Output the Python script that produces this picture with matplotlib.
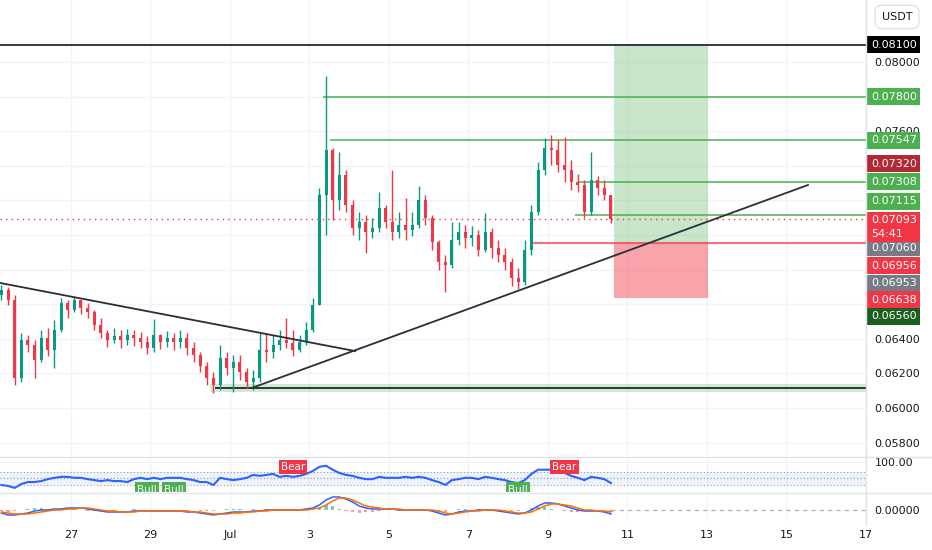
import numpy as np
import matplotlib
matplotlib.use("Agg")
import matplotlib.pyplot as plt
from matplotlib.lines import Line2D


# 4h candles, time axis = days since Jun 25 00:00
first_time = 0.25
bar_step = 1 / 6
first_open = 0.06653

closes = [0.06682, 0.06624, 0.06173, 0.06393, 0.06364, 0.06277, 0.06405, 0.06335, 0.06451, 0.06607,
          0.06566, 0.06624, 0.06578, 0.06555, 0.06480, 0.06434, 0.06393, 0.06416, 0.06393, 0.06422,
          0.06405, 0.06381, 0.06347, 0.06422, 0.06381, 0.06405, 0.06381, 0.06405, 0.06347, 0.06306,
          0.06243, 0.06173, 0.06133, 0.06289, 0.06231, 0.06266, 0.06208, 0.06150, 0.06173, 0.06335,
          0.06324, 0.06364, 0.06393, 0.06376, 0.06335, 0.06381, 0.06451, 0.06595, 0.07231, 0.07491,
          0.07202, 0.07347, 0.07173, 0.07040, 0.07075, 0.07017, 0.07040, 0.07156, 0.07075, 0.07017,
          0.07058, 0.07029, 0.07058, 0.07202, 0.07098, 0.06959, 0.06844, 0.06827, 0.06971, 0.07017,
          0.06983, 0.07000, 0.06913, 0.07017, 0.06925, 0.06884, 0.06844, 0.06751, 0.06728, 0.06913,
          0.07133, 0.07376, 0.07503, 0.07491, 0.07405, 0.07376, 0.07306, 0.07289, 0.07133, 0.07318,
          0.07272, 0.07231, 0.07093]
highs = [0.06711, 0.06699, 0.06653, 0.06434, 0.06422, 0.06393, 0.06451, 0.06462, 0.06509, 0.06636,
         0.06624, 0.06642, 0.06624, 0.06607, 0.06566, 0.06520, 0.06451, 0.06462, 0.06451, 0.06457,
         0.06451, 0.06439, 0.06416, 0.06514, 0.06428, 0.06445, 0.06434, 0.06451, 0.06434, 0.06381,
         0.06324, 0.06266, 0.06208, 0.06364, 0.06324, 0.06306, 0.06306, 0.06231, 0.06220, 0.06434,
         0.06434, 0.06422, 0.06451, 0.06520, 0.06451, 0.06422, 0.06497, 0.06636, 0.07272, 0.07919,
         0.07503, 0.07480, 0.07376, 0.07202, 0.07133, 0.07116, 0.07098, 0.07248, 0.07173, 0.07376,
         0.07133, 0.07214, 0.07133, 0.07283, 0.07231, 0.07116, 0.06971, 0.06884, 0.07075, 0.07075,
         0.07058, 0.07052, 0.07029, 0.07127, 0.07040, 0.06971, 0.06925, 0.06867, 0.06809, 0.06971,
         0.07173, 0.07422, 0.07561, 0.07578, 0.07549, 0.07566, 0.07433, 0.07353, 0.07318, 0.07480,
         0.07341, 0.07318, 0.07231]
lows = [0.06624, 0.06595, 0.06133, 0.06150, 0.06324, 0.06173, 0.06266, 0.06301, 0.06231, 0.06439,
        0.06520, 0.06555, 0.06543, 0.06520, 0.06451, 0.06405, 0.06353, 0.06376, 0.06347, 0.06364,
        0.06358, 0.06347, 0.06312, 0.06324, 0.06341, 0.06353, 0.06335, 0.06347, 0.06306, 0.06266,
        0.06208, 0.06133, 0.06087, 0.06104, 0.06191, 0.06092, 0.06162, 0.06116, 0.06104, 0.06150,
        0.06266, 0.06289, 0.06335, 0.06347, 0.06301, 0.06324, 0.06364, 0.06439, 0.06595, 0.07000,
        0.07087, 0.07144, 0.07133, 0.07000, 0.06971, 0.06896, 0.06983, 0.07017, 0.07040, 0.06971,
        0.06983, 0.06971, 0.06994, 0.07040, 0.07058, 0.06913, 0.06798, 0.06670, 0.06809, 0.06942,
        0.06925, 0.06936, 0.06879, 0.06902, 0.06867, 0.06844, 0.06798, 0.06705, 0.06688, 0.06711,
        0.06884, 0.07116, 0.07347, 0.07405, 0.07364, 0.07306, 0.07260, 0.07248, 0.07098, 0.07116,
        0.07231, 0.07202, 0.07069]

rsi = [30, 27, 21, 33, 39, 39, 42, 48, 52, 55,
       55, 52, 52, 48, 45, 42, 45, 42, 42, 39,
       48, 52, 48, 52, 48, 52, 52, 52, 48, 45,
       39, 39, 30, 52, 48, 45, 48, 52, 61, 58,
       61, 64, 55, 58, 55, 58, 64, 73, 86, 89,
       77, 67, 61, 58, 52, 48, 48, 55, 52, 52,
       52, 55, 52, 55, 52, 45, 39, 30, 45, 48,
       52, 52, 48, 55, 52, 48, 45, 39, 36, 45,
       64, 77, 77, 77, 73, 67, 58, 52, 45, 55,
       52, 48, 36]

macd = [-0.00012, -0.00020, -0.00020, -0.00016, -0.00012, -0.00004, 0.0, 0.0, 0.00004, 0.00004,
        0.00008, 0.00008, 0.00008, 0.00004, 0.0, -0.00004, -0.00008, -0.00008, -0.00008, -0.00008,
        -0.00004, -0.00004, -0.00004, -0.00004, -0.00004, -0.00004, -0.00004, -0.00004, -0.00008, -0.00008,
        -0.00012, -0.00016, -0.00020, -0.00016, -0.00012, -0.00008, -0.00008, -0.00008, -0.00004, -0.00004,
        0.0, 0.0, 0.0, 0.0, 0.0, 0.0, 0.00004, 0.00008, 0.00020, 0.00040,
        0.00052, 0.00052, 0.00044, 0.00032, 0.00016, 0.00008, 0.00004, 0.00004, 0.00004, 0.00004,
        0.0, 0.0, 0.0, 0.0, 0.0, -0.00004, -0.00012, -0.00020, -0.00016, -0.00008,
        -0.00004, -0.00004, 0.0, 0.0, 0.0, -0.00004, -0.00008, -0.00012, -0.00016, -0.00012,
        0.0, 0.00016, 0.00028, 0.00028, 0.00024, 0.00016, 0.00008, 0.0, -0.00004, -0.00004,
        -0.00004, -0.00008, -0.00016]
signal = [-0.00008, -0.00012, -0.00016, -0.00016, -0.00016, -0.00012, -0.00008, -0.00004, 0.0, 0.0,
          0.00004, 0.00004, 0.00008, 0.00008, 0.00004, 0.0, -0.00004, -0.00004, -0.00008, -0.00008,
          -0.00008, -0.00004, -0.00004, -0.00004, -0.00004, -0.00004, -0.00004, -0.00004, -0.00004, -0.00008,
          -0.00008, -0.00012, -0.00016, -0.00016, -0.00016, -0.00012, -0.00012, -0.00008, -0.00008, -0.00004,
          -0.00004, 0.0, 0.0, 0.0, 0.0, 0.0, 0.0, 0.00004, 0.00008, 0.00020,
          0.00036, 0.00048, 0.00048, 0.00040, 0.00028, 0.00016, 0.00012, 0.00008, 0.00004, 0.00004,
          0.00004, 0.0, 0.0, 0.0, 0.0, 0.0, -0.00004, -0.00012, -0.00016, -0.00012,
          -0.00008, -0.00004, -0.00004, 0.0, 0.0, 0.0, -0.00004, -0.00008, -0.00012, -0.00012,
          -0.00008, 0.00004, 0.00016, 0.00024, 0.00024, 0.00020, 0.00016, 0.00008, 0.0, 0.0,
          -0.00004, -0.00004, -0.00008]

date_ticks = [2, 4, 6, 8, 10, 12, 14, 16, 18, 20, 22]
date_labels = ["27", "29", "Jul", "3", "5", "7", "9", "11", "13", "15", "17"]

# drawings
target_price = 0.08100
entry_price = 0.06956
stop_price = 0.06638
last_price = 0.07093
position_span = (15.66, 18.03)
entry_line_start = 13.55
level_prices = [0.07800, 0.07547, 0.07308, 0.07115]
level_starts = [8.34, 8.52, 14.76, 14.68]
support_price = 0.06116
support_band = (0.06092, 0.06139)
support_start = 5.5
down_trend_t = [0.21, 9.15]
down_trend_p = [0.06723, 0.06329]
up_trend_t = [6.55, 20.54]
up_trend_p = [0.06116, 0.07289]

label_prices = [0.08100, 0.07800, 0.07547, 0.07320, 0.07308, 0.07115,
                0.07060, 0.06956, 0.06953, 0.06638, 0.06560]
label_colors = ["#000000", "#4caf50", "#4caf50", "#b22833", "#4caf50", "#4caf50",
                "#787b86", "#f23645", "#787b86", "#f23645", "#1b5e20"]
label_shift_px = [0, 0, 0, -16, 0, -14, 23, 23, 40, 2, 5]   # stacking offsets on the scale

bear_idx = [44, 85]
bull_idx = [22, 26, 78]

GREEN = "#089981"
RED = "#f23645"
GRID = "#f0f3fa"
TXT = "#131722"

W, H = 932, 550
xmin, xmax = 0.214, 22.0

fig = plt.figure(figsize=(W / 100, H / 100), dpi=100)
fig.patch.set_facecolor("white")
ax = fig.add_axes([0, 1 - 456 / H, 866 / W, 456 / H])
ax_rsi = fig.add_axes([0, 1 - 492 / H, 866 / W, 34 / H], sharex=ax)
ax_macd = fig.add_axes([0, 1 - 522 / H, 866 / W, 28 / H], sharex=ax)

t = first_time + bar_step * np.arange(len(closes))
opens = np.r_[first_open, closes[:-1]]
closes_a = np.array(closes)
highs_a = np.maximum(np.array(highs), np.maximum(opens, closes_a))
lows_a = np.minimum(np.array(lows), np.minimum(opens, closes_a))
up = closes_a >= opens
colors = np.where(up, GREEN, RED)

for a in (ax, ax_rsi, ax_macd):
    for s in a.spines.values():
        s.set_visible(False)
    a.set_facecolor("white")
    for d in date_ticks:
        a.axvline(d, color=GRID, lw=1, zorder=0)
    a.tick_params(length=0, colors=TXT, labelsize=8)
    a.yaxis.tick_right()

# ---- main price pane ----
price_ticks = np.arange(0.058, 0.0811, 0.002)
shown = {0.058, 0.060, 0.062, 0.064, 0.076, 0.080}
for p in price_ticks:
    ax.axhline(p, color=GRID, lw=1, zorder=0)
ax.set_yticks(price_ticks)
ax.set_yticklabels([f"{p:.5f}" if round(p, 3) in shown else "" for p in price_ticks])
ax.tick_params(axis="y", pad=6)
ax.tick_params(axis="x", labelbottom=False)

# position tool
ax.fill_between(position_span, entry_price, target_price, color="#4caf50", alpha=0.3, lw=0, zorder=1)
ax.fill_between(position_span, stop_price, entry_price, color=RED, alpha=0.45, lw=0, zorder=1)
ax.hlines(target_price, xmin, xmax, color=TXT, lw=1.2, zorder=2)
ax.hlines(entry_price, entry_line_start, xmax, color=RED, lw=1.5, alpha=0.7, zorder=2)
for lp, ls in zip(level_prices, level_starts):
    ax.hlines(lp, ls, xmax, color="#4caf50", lw=1.3, alpha=0.85, zorder=2)

# support zone + trendlines
ax.fill_between([support_start, xmax], support_band[0], support_band[1], color="#4caf50", alpha=0.25, lw=0, zorder=1)
ax.hlines(support_price, support_start + 0.12, xmax, color=TXT, lw=1.2, zorder=2)
ax.plot(down_trend_t, down_trend_p, color="#2a2e39", lw=1.3, zorder=4)
ax.plot(up_trend_t, up_trend_p, color="#2a2e39", lw=1.3, zorder=4)

# candles
ax.vlines(t, lows_a, highs_a, colors=colors, lw=1, zorder=3)
ax.bar(t, np.abs(closes_a - opens), bottom=np.minimum(opens, closes_a), width=bar_step * 0.45,
       color=colors, zorder=3)

ax.hlines(last_price, xmin, xmax, color=RED, lw=1, linestyles=(0, (1, 3)), zorder=2)

ax.set_xlim(xmin, xmax)
ax.set_ylim(0.06 - 48 / 17300, 0.06 + 408 / 17300)

# price scale labels
px2pt = 0.72
for lp, lc, sh in zip(label_prices, label_colors, label_shift_px):
    ax.annotate(f"{lp:.5f}", xy=(1, lp), xycoords=("axes fraction", "data"),
                xytext=(3.5, -sh * px2pt), textcoords="offset points",
                ha="left", va="center", color="white", fontsize=8,
                bbox=dict(boxstyle="square,pad=0.32", fc=lc, ec="none"),
                annotation_clip=False, zorder=6)
ax.annotate(f"{last_price:.5f}\n54:41", xy=(1, last_price), xycoords=("axes fraction", "data"),
            xytext=(3.5, -8 * px2pt), textcoords="offset points",
            ha="left", va="center", color="white", fontsize=8, linespacing=1.45,
            bbox=dict(boxstyle="square,pad=0.32", fc=RED, ec="none"),
            annotation_clip=False, zorder=7)

# ---- RSI pane ----
ax_rsi.axhspan(30, 70, color="#2962ff", alpha=0.08, lw=0, zorder=0)
for lvl in (30, 50, 70):
    ax_rsi.axhline(lvl, color="#9598a1", lw=0.8, ls=(0, (1, 2)), zorder=1)
ax_rsi.axhline(100, color=GRID, lw=1, zorder=0)
ax_rsi.plot(t, rsi, color="#2962ff", lw=1.5, zorder=3)
for i in bear_idx:
    ax_rsi.text(t[i], 85, "Bear", ha="center", va="center", color="white", fontsize=7.5,
                bbox=dict(boxstyle="square,pad=0.2", fc=RED, ec="none"), zorder=5, clip_on=True)
for i in bull_idx:
    ax_rsi.text(t[i], 16, "Bull", ha="center", va="center", color="white", fontsize=7.5,
                bbox=dict(boxstyle="square,pad=0.2", fc="#4caf50", ec="none"), zorder=5, clip_on=True)
ax_rsi.set_ylim(8.4, 113)
ax_rsi.set_yticks([100])
ax_rsi.set_yticklabels(["100.00"])
ax_rsi.tick_params(axis="y", pad=6)
ax_rsi.tick_params(axis="x", labelbottom=False)

# ---- MACD pane ----
macd_a = np.array(macd)
signal_a = np.array(signal)
hist = macd_a - signal_a
ax_macd.bar(t, hist, width=bar_step * 0.5, color=np.where(hist >= 0, "#26a69a", "#ff5252"),
            alpha=0.6, zorder=2)
ax_macd.plot(t, macd_a, color="#2962ff", lw=1.1, zorder=3)
ax_macd.plot(t, signal_a, color="#ff6d00", lw=1.1, zorder=3)
ax_macd.hlines(0, t[-1], xmax, color="#b2b5be", lw=1, linestyles=(0, (3, 3)), zorder=1)
ax_macd.set_ylim(-0.00048, 0.00064)
ax_macd.set_yticks([0])
ax_macd.set_yticklabels(["0.00000"])
ax_macd.tick_params(axis="y", pad=6)
ax_macd.set_xticks(date_ticks)
ax_macd.set_xticklabels(date_labels)
ax_macd.tick_params(axis="x", pad=6)
ax_macd.set_xlim(xmin, xmax)

# pane separators, scale border, currency box
for yy in (457, 493):
    fig.add_artist(Line2D([0, 1], [1 - yy / H] * 2, transform=fig.transFigure, color="#e0e3eb", lw=1))
fig.add_artist(Line2D([866 / W] * 2, [1 - 525 / H, 1], transform=fig.transFigure, color="#e0e3eb", lw=1))
fig.text(897 / W, 1 - 17 / H, "USDT", ha="center", va="center", fontsize=8, color=TXT,
         bbox=dict(boxstyle="round,pad=0.6", fc="white", ec="#e0e3eb"))

fig.savefig("out.png", dpi=100, facecolor="white")
